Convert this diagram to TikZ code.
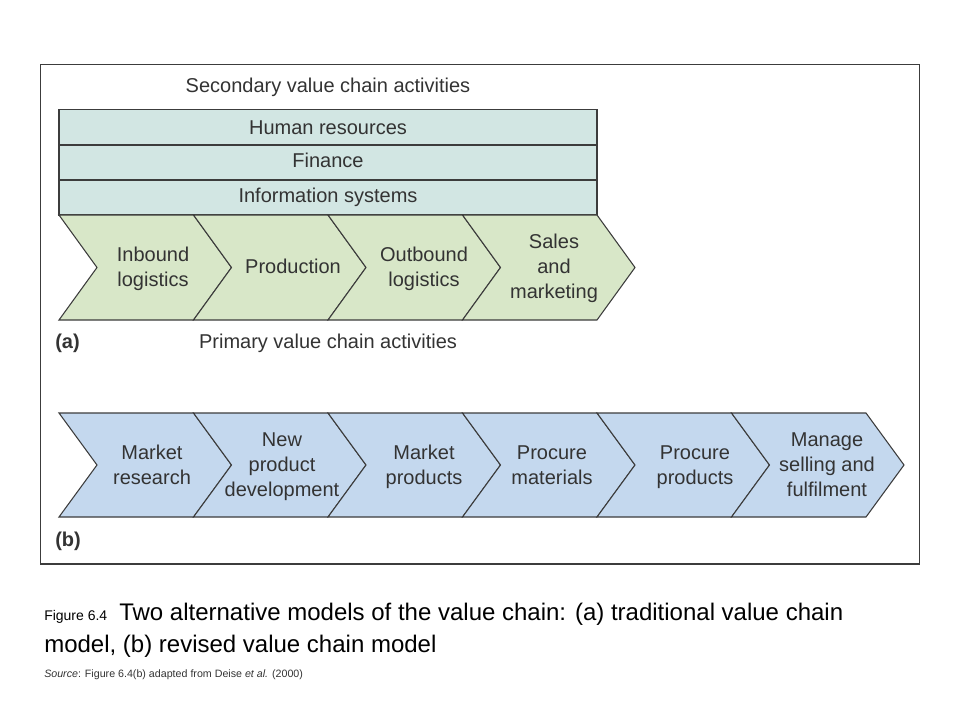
\documentclass[tikz,border=0pt]{standalone}
\usepackage{fontspec}
\setmainfont{Liberation Sans}
\usepackage{xcolor}
\definecolor{suppfill}{HTML}{D2E6E3}
\definecolor{primfill}{HTML}{D8E7C8}
\definecolor{revfill}{HTML}{C4D8EE}
\definecolor{edge}{HTML}{3C3C3C}
\definecolor{ink}{HTML}{333333}

\begin{document}
\begin{tikzpicture}[x=0.75pt,y=-0.75pt,
    box/.style={draw=edge,line width=0.8pt},
    lbl/.style={font=\fontsize{15}{18.75}\selectfont,text=ink,align=center,inner sep=0pt},
    tag/.style={font=\bfseries\fontsize{15}{18}\selectfont,text=ink,inner sep=0pt,anchor=base west}]
    \useasboundingbox (0,0) rectangle (960,720);

    % Outer frame
    \draw[edge,line width=0.8pt] (40.5,64.5) rectangle (919.5,564);

    % Secondary activities
    \node[lbl,anchor=base] (secondary) at (328,93) {Secondary value chain activities};
    \filldraw[box,fill=suppfill] (59,109.5) rectangle (597,145);
    \filldraw[box,fill=suppfill] (59,145) rectangle (597,180);
    \filldraw[box,fill=suppfill] (59,180) rectangle (597,215);
    \node[lbl,anchor=base] (hr) at (328,135) {Human resources};
    \node[lbl,anchor=base] (finance) at (328,167.5) {Finance};
    \node[lbl,anchor=base] (infosys) at (328,203) {Information systems};

    % (a) Primary activities
    \filldraw[box,fill=primfill] (59,215) -- ++(134.5,0) -- ++(38,52.5) -- ++(-38,52.5) -- ++(-134.5,0) -- ++(38,-52.5) -- cycle;
    \filldraw[box,fill=primfill] (193.5,215) -- ++(134.5,0) -- ++(38,52.5) -- ++(-38,52.5) -- ++(-134.5,0) -- ++(38,-52.5) -- cycle;
    \filldraw[box,fill=primfill] (328,215) -- ++(134.5,0) -- ++(38,52.5) -- ++(-38,52.5) -- ++(-134.5,0) -- ++(38,-52.5) -- cycle;
    \filldraw[box,fill=primfill] (462.5,215) -- ++(134.5,0) -- ++(38,52.5) -- ++(-38,52.5) -- ++(-134.5,0) -- ++(38,-52.5) -- cycle;
    \node[lbl] (inbound) at (153,269) {\strut Inbound\\logistics\strut};
    \node[lbl] (production) at (293,269) {\strut Production\strut};
    \node[lbl] (outbound) at (424,269) {\strut Outbound\\logistics\strut};
    \node[lbl] (sales) at (554,269) {\strut Sales\\and\\marketing\strut};
    \node[tag] (taga) at (55,348.5) {(a)};
    \node[lbl,anchor=base] (primary) at (328,349) {Primary value chain activities};

    % (b) Revised chain
    \filldraw[box,fill=revfill] (59,413) -- ++(134.5,0) -- ++(38,52) -- ++(-38,52) -- ++(-134.5,0) -- ++(38,-52) -- cycle;
    \filldraw[box,fill=revfill] (193.5,413) -- ++(134.5,0) -- ++(38,52) -- ++(-38,52) -- ++(-134.5,0) -- ++(38,-52) -- cycle;
    \filldraw[box,fill=revfill] (328,413) -- ++(134.5,0) -- ++(38,52) -- ++(-38,52) -- ++(-134.5,0) -- ++(38,-52) -- cycle;
    \filldraw[box,fill=revfill] (462.5,413) -- ++(134.5,0) -- ++(38,52) -- ++(-38,52) -- ++(-134.5,0) -- ++(38,-52) -- cycle;
    \filldraw[box,fill=revfill] (597,413) -- ++(134.5,0) -- ++(38,52) -- ++(-38,52) -- ++(-134.5,0) -- ++(38,-52) -- cycle;
    \filldraw[box,fill=revfill] (731.5,413) -- ++(134.5,0) -- ++(38,52) -- ++(-38,52) -- ++(-134.5,0) -- ++(38,-52) -- cycle;
    \node[lbl] (research) at (152,466.5) {\strut Market\\research\strut};
    \node[lbl] (newprod) at (282,466.5) {\strut New\\product\\development\strut};
    \node[lbl] (marketprod) at (424,466.5) {\strut Market\\products\strut};
    \node[lbl] (materials) at (552,466.5) {\strut Procure\\materials\strut};
    \node[lbl] (procure) at (695,466.5) {\strut Procure\\products\strut};
    \node[lbl] (manage) at (827,466.5) {\strut Manage\\selling and\\fulfilment\strut};
    \node[tag] (tagb) at (55,546) {(b)};

    % Caption
    \node[inner sep=0pt,anchor=base west,font=\fontsize{18}{22}\selectfont] (cap1) at (44,620)
        {{\fontsize{10.5}{12}\selectfont Figure 6.4}\enspace Two alternative models of the value chain: (a) traditional value chain};
    \node[inner sep=0pt,anchor=base west,font=\fontsize{18}{22}\selectfont] (cap2) at (44,652)
        {model, (b) revised value chain model};
    \node[inner sep=0pt,anchor=base west,font=\fontsize{8}{9.5}\selectfont,text=ink] (source) at (44,677)
        {\textit{Source}: Figure 6.4(b) adapted from Deise \textit{et al.} (2000)};
\end{tikzpicture}
\end{document}
